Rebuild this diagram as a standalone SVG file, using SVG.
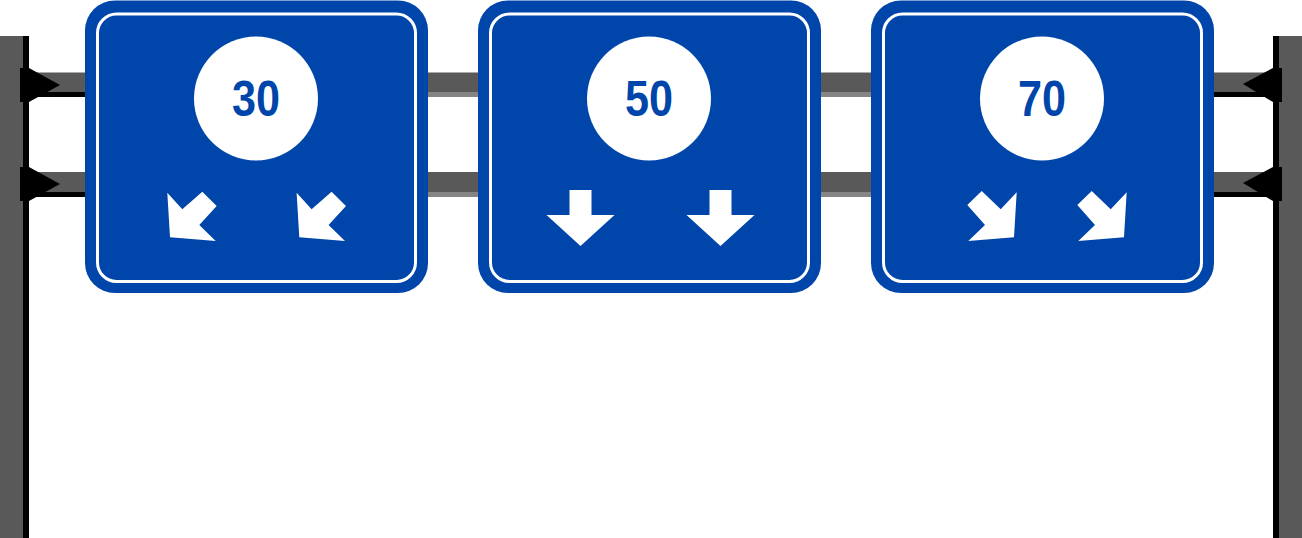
<svg xmlns="http://www.w3.org/2000/svg" width="1302" height="538" viewBox="0 0 1302 538">
  <style>
    .post { fill: #595959; }
    .edge { fill: #000000; }
    .beam { fill: #595959; }
    .strip { fill: #858585; }
    .plate { fill: #000000; }
    .board { fill: #0045AA; }
    .rim { fill: none; stroke: #FFFFFF; stroke-width: 3; }
    .disc { fill: #FFFFFF; }
    .num { fill: #0045AA; font-family: "Liberation Sans", Arial, sans-serif; font-weight: bold; font-size: 50px; text-anchor: middle; }
    .arrow { fill: #FFFFFF; }
  </style>
  <rect width="1302" height="538" fill="#FFFFFF"/>

  <g id="post-left">
    <rect class="post" x="0" y="36" width="23" height="502"/>
    <rect class="edge" x="23" y="36" width="6" height="502"/>
  </g>
  <g id="post-right">
    <rect class="edge" x="1273" y="36" width="6" height="502"/>
    <rect class="post" x="1279" y="36" width="23" height="502"/>
  </g>

  <g id="connectors">
    <rect class="beam" x="29" y="72.5" width="1244" height="19.5"/>
    <rect class="strip" x="29" y="92" width="1244" height="5"/>
    <rect class="beam" x="29" y="172" width="1244" height="20"/>
    <rect class="strip" x="29" y="192" width="1244" height="5"/>
    <rect class="edge" x="29" y="92" width="60" height="5"/>
    <rect class="edge" x="29" y="192" width="60" height="5"/>
    <rect class="edge" x="1210" y="92" width="63" height="5"/>
    <rect class="edge" x="1210" y="192" width="63" height="5"/>
  </g>

  <g id="bracket-left-top">
    <rect class="plate" x="20" y="68" width="9" height="34"/>
    <polygon class="plate" points="29,68 60,85 29,102"/>
  </g>
  <g id="bracket-left-bottom">
    <rect class="plate" x="20" y="167" width="9" height="34"/>
    <polygon class="plate" points="29,167 60,184 29,201"/>
  </g>
  <g id="bracket-right-top">
    <rect class="plate" x="1273" y="68" width="9" height="34"/>
    <polygon class="plate" points="1273,68 1243,84 1273,102"/>
  </g>
  <g id="bracket-right-bottom">
    <rect class="plate" x="1273" y="167" width="9" height="34"/>
    <polygon class="plate" points="1273,167 1243,183 1273,201"/>
  </g>

  <g id="sign-30">
    <rect class="board" x="85" y="0.5" width="343" height="292.5" rx="30" ry="30"/>
    <rect class="rim" x="97.5" y="14" width="318" height="267.5" rx="19" ry="19"/>
    <circle class="disc" cx="256" cy="98.5" r="62"/>
    <text class="num" x="256" y="116" textLength="48" lengthAdjust="spacingAndGlyphs">30</text>
    <polygon class="arrow" points="167.3,192.7 182.3,209.3 202.3,191.7 216.7,206 199.3,225 215.7,241 170,237.3"/>
    <polygon class="arrow" points="296.6,192.7 311.6,209.3 331.6,191.7 346,206 328.6,225 345,241 299.3,237.3"/>
  </g>

  <g id="sign-50">
    <rect class="board" x="478" y="0.5" width="343" height="292.5" rx="30" ry="30"/>
    <rect class="rim" x="490.5" y="14" width="318" height="267.5" rx="19" ry="19"/>
    <circle class="disc" cx="649" cy="98.5" r="62"/>
    <text class="num" x="649" y="116" textLength="48" lengthAdjust="spacingAndGlyphs">50</text>
    <polygon class="arrow" points="569.5,190 591.5,190 591.5,215 614.5,215 580.5,246 546.5,215 569.5,215"/>
    <polygon class="arrow" points="709.5,190 731.5,190 731.5,215 754.5,215 720.5,246 686.5,215 709.5,215"/>
  </g>

  <g id="sign-70">
    <rect class="board" x="871" y="0.5" width="343" height="292.5" rx="30" ry="30"/>
    <rect class="rim" x="883.5" y="14" width="318" height="267.5" rx="19" ry="19"/>
    <circle class="disc" cx="1042" cy="98.5" r="62"/>
    <text class="num" x="1042" y="116" textLength="48" lengthAdjust="spacingAndGlyphs">70</text>
    <polygon class="arrow" points="981.7,191 1000.7,209.3 1016.7,192.3 1014,237.3 968.3,241 985,225 967.3,205"/>
    <polygon class="arrow" points="1091.7,191 1110.7,209.3 1126.7,192.3 1124,237.3 1078.3,241 1095,225 1077.3,205"/>
  </g>
</svg>
